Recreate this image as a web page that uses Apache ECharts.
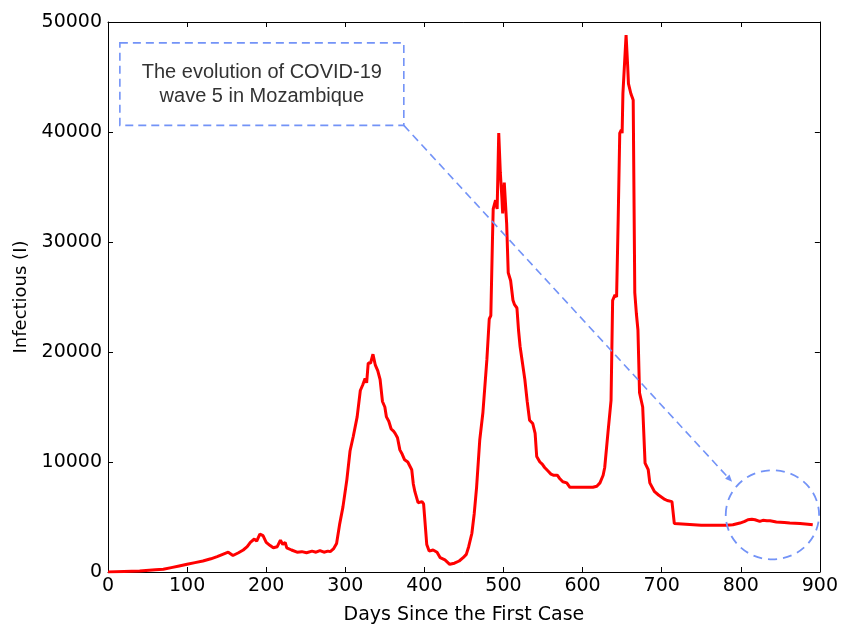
<!DOCTYPE html>
<html>
<head>
<meta charset="utf-8">
<script src="https://cdn.jsdelivr.net/npm/echarts@6/dist/echarts.min.js"></script>
<style>html,body{margin:0;padding:0;background:#fff}#c{width:841px;height:633px}</style>
</head>
<body>
<div id="c"></div>
<script>
// Days since first case
const days = [0,20,40,60,70,80,90,100,110,120,130,138,145,152,158,165,171,176,180,185,188,192,196,200,205,209,214,218,221,224,226,232,239,245,251,258,263,268,273,278,281,285,289,293,297,302,306,310,315,319,322,325,327,329,332,335,338,341,344,347,350,352,355,358,361,363,366,369,372,375,379,384,386,388,392,397,399,403,406,411,416,420,426,432,438,444,449,453,456,460,463,466,470,474,479,482,484,486,487,490,492,494,496,498,499,501,503,504,506,509,512,514,517,519,521,524,527,530,533,537,540,542,546,549,552,556,560,563,568,571,575,580,584,600,613,618,622,626,628,632,636,638,641,643,645,647,649,650,651,653,655,657,658,661,664,666,668,670,672,676,679,683,685,691,696,700,704,707,713,715,716,718,750,782,790,799,805,809,814,818,820,824,828,833,837,845,855,862,875,885,891];
// Infectious (I)
const infectious = [0,50,100,200,250,400,550,700,850,1000,1200,1400,1600,1800,1500,1750,2000,2300,2700,3000,2800,3450,3300,2700,2400,2200,2300,2900,2500,2700,2200,2000,1800,1850,1750,1900,1800,1950,1800,1900,1850,2100,2600,4400,5900,8400,11000,12300,14100,16500,17000,17600,17200,19000,19000,19800,18800,18300,17500,15500,15000,14100,13700,13000,12800,12600,12200,11100,10700,10200,10000,9300,8000,7300,6300,6400,6200,2500,1900,2000,1800,1300,1100,700,800,1000,1300,1600,2300,3500,5300,7700,12000,14500,19300,23000,23300,30000,33000,33800,33000,39900,36300,34000,32600,35400,35500,31700,27200,26500,24700,24300,24000,22000,20500,19000,17500,15500,13800,13500,12600,10500,10000,9800,9500,9200,8900,8800,8800,8500,8200,8100,7700,7700,7700,7800,8100,8800,9500,12600,15600,24700,25200,25000,32000,39900,40200,39900,43500,43400,48800,46000,44400,43500,42900,25400,23500,22000,16300,15000,9900,9300,8100,7300,7000,6800,6600,6500,6400,6300,4400,4250,4250,4250,4300,4450,4600,4750,4800,4750,4700,4600,4700,4650,4650,4550,4500,4450,4400,4350,4300];
const xTicks = [0,100,200,300,400,500,600,700,800,900];
const yTicks = [0,10000,20000,30000,40000,50000];
const annotationText = ['The evolution of COVID-19', 'wave 5 in Mozambique'];
// annotation anchors in data coordinates
const boxCorners = [[15, 48100], [374, 40600]];
const arrowEnd = [789, 8200];
const circleCenter = [840, 5200];
const circleRadius = [59, 4050];

const chart = echarts.init(document.getElementById('c'), null, {renderer: 'canvas'});
const tickFont = 'DejaVu Sans';
const blue = '#7393f7';
const axisCommon = {
  type: 'value',
  axisLine: {show: true, onZero: false, lineStyle: {color: '#000', width: 1}},
  axisTick: {show: true, inside: true, length: 5, lineStyle: {color: '#000', width: 1}},
  splitLine: {show: false}
};
chart.setOption({
  animation: false,
  grid: {left: 108, right: 21, top: 22, bottom: 61, containLabel: false},
  xAxis: [
    Object.assign({}, axisCommon, {
      min: 0, max: 900, interval: 100, position: 'bottom',
      axisLabel: {show: true, color: '#000', fontFamily: tickFont, fontSize: 19, margin: 5,
        formatter: v => xTicks.includes(v) ? String(v) : ''},
      name: 'Days Since the First Case', nameLocation: 'middle', nameGap: 34,
      nameTextStyle: {color: '#000', fontFamily: tickFont, fontSize: 19}
    }),
    Object.assign({}, axisCommon, {
      min: 0, max: 900, interval: 100, position: 'top', axisLabel: {show: false}
    })
  ],
  yAxis: [
    Object.assign({}, axisCommon, {
      min: 0, max: 50000, interval: 10000, position: 'left',
      axisLabel: {show: true, color: '#000', fontFamily: tickFont, fontSize: 19, margin: 6,
        formatter: v => yTicks.includes(v) ? String(v) : ''},
      name: 'Infectious (I)', nameLocation: 'middle', nameGap: 76, nameRotate: 90,
      nameTextStyle: {color: '#000', fontFamily: tickFont, fontSize: 18}
    }),
    Object.assign({}, axisCommon, {
      min: 0, max: 50000, interval: 10000, position: 'right', axisLabel: {show: false}
    })
  ],
  series: [{
    type: 'line',
    data: days.map((d, i) => [d, infectious[i]]),
    showSymbol: false,
    symbol: 'none',
    lineStyle: {color: '#ff0000', width: 3},
    z: 3
  }]
});

function px(p) { return chart.convertToPixel({gridIndex: 0}, p); }
const b0 = px(boxCorners[0]), b1 = px(boxCorners[1]);
const ae = px(arrowEnd);
const cc = px(circleCenter);
const cr = px([circleCenter[0] + circleRadius[0], circleCenter[1] + circleRadius[1]]);
const rx = Math.abs(cr[0] - cc[0]), ry = Math.abs(cc[1] - cr[1]);
const ang = Math.atan2(ae[1] - b1[1], ae[0] - b1[0]);
const ah = 7, aw = 3;
const tip = ae;
const back = [ae[0] - ah * Math.cos(ang), ae[1] - ah * Math.sin(ang)];
const left = [back[0] + aw * Math.sin(ang), back[1] - aw * Math.cos(ang)];
const right = [back[0] - aw * Math.sin(ang), back[1] + aw * Math.cos(ang)];
const cx = (b0[0] + b1[0]) / 2;
const dashStyle = {stroke: blue, lineWidth: 1.6, lineDash: [8, 5], fill: null};
const annFont = '20px "Liberation Sans", Arial, sans-serif';
chart.setOption({
  graphic: [
    {type: 'rect', shape: {x: b0[0], y: b0[1], width: b1[0] - b0[0], height: b1[1] - b0[1]}, style: dashStyle, z: 10},
    {type: 'text', x: cx, y: b0[1] + 30, style: {text: annotationText[0], fill: '#333', font: annFont, align: 'center', verticalAlign: 'middle'}, z: 11},
    {type: 'text', x: cx, y: b0[1] + 54, style: {text: annotationText[1], fill: '#333', font: annFont, align: 'center', verticalAlign: 'middle'}, z: 11},
    {type: 'line', shape: {x1: b1[0], y1: b1[1], x2: back[0], y2: back[1]}, style: {stroke: blue, lineWidth: 1.6, lineDash: [8, 5]}, z: 10},
    {type: 'polygon', shape: {points: [tip, left, right]}, style: {fill: blue}, z: 10},
    {type: 'ellipse', shape: {cx: cc[0], cy: cc[1], rx: rx, ry: ry}, style: {stroke: blue, lineWidth: 1.8, lineDash: [9, 6], fill: null}, z: 10}
  ]
});
</script>
</body>
</html>
